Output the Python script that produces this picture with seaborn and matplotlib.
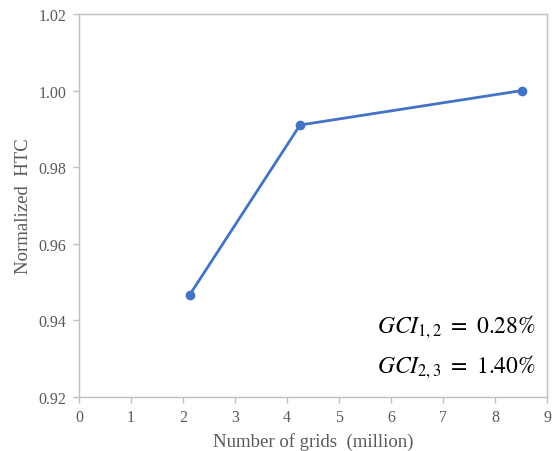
import matplotlib
matplotlib.use("Agg")
import matplotlib.pyplot as plt
import seaborn as sns
import pandas as pd

# datos de convergencia de malla
grids_million = [2.13, 4.25, 8.52]
normalized_htc = [0.9467, 0.991, 1.000]
gci_labels = [r"$GCI_{1,2}\ =\ 0.28\%$", r"$GCI_{2,3}\ =\ 1.40\%$"]

sns.set_style("white")
plt.rcParams["font.family"] = ["Liberation Serif", "DejaVu Serif"]
plt.rcParams["mathtext.fontset"] = "stix"

df = pd.DataFrame({"grids": grids_million, "htc": normalized_htc})

fig = plt.figure(figsize=(5.58, 4.52), dpi=100)
ax = fig.add_axes([0.1416, 0.1195, 0.8388, 0.8475])

sns.lineplot(x="grids", y="htc", data=df, ax=ax, color="#4472C4",
             linewidth=2, marker="o", markersize=7, markeredgewidth=0)

gray = "#595959"
ax.set_xlim(0, 9)
ax.set_ylim(0.92, 1.02)
ax.set_xticks(range(0, 10))
ax.set_yticks([0.92, 0.94, 0.96, 0.98, 1.00, 1.02])
ax.set_yticklabels([f"{v:.2f}" for v in [0.92, 0.94, 0.96, 0.98, 1.00, 1.02]])

for s in ax.spines.values():
    s.set_color("#BFBFBF")
    s.set_linewidth(1)
ax.tick_params(axis="both", direction="out", length=4, width=1,
               color="#BFBFBF", labelcolor=gray, labelsize=11.5)
ax.tick_params(axis="x", bottom=True, pad=5)
ax.tick_params(axis="y", left=True, pad=5)

ax.set_xlabel("Number of grids  (million)", fontsize=13.5, color=gray, labelpad=5)
ax.set_ylabel("Normalized  HTC", fontsize=13.5, color=gray, labelpad=5)

ax.text(0.977, 0.170, gci_labels[0], transform=ax.transAxes, ha="right",
        va="baseline", fontsize=17, color="black")
ax.text(0.977, 0.065, gci_labels[1], transform=ax.transAxes, ha="right",
        va="baseline", fontsize=17, color="black")

fig.savefig("out.png", dpi=100)
